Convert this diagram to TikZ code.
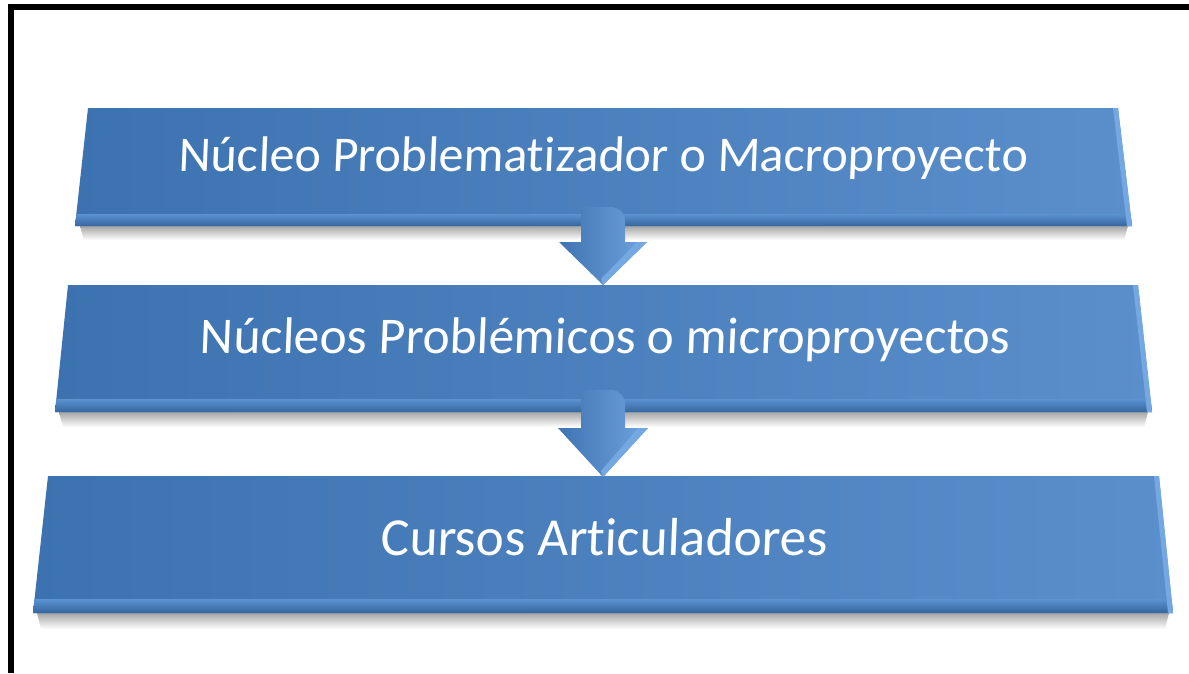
\documentclass[tikz,border=0pt]{standalone}
\usepackage{fontspec}
\setmainfont{Carlito}[Ligatures=NoCommon, FakeSlant=0.04]
\usetikzlibrary{calc}
\begin{document}
\definecolor{boxL}{HTML}{3D72B0}
\definecolor{boxR}{HTML}{5A8FCC}
\definecolor{bevD}{HTML}{35669F}
\definecolor{bevL}{HTML}{5B92D0}
\definecolor{edgeL}{HTML}{74A8E2}
\definecolor{arrL}{HTML}{3F74B2}
\definecolor{arrR}{HTML}{6FA3DD}
\tikzset{
  boxtext/.style={text=white, inner sep=0pt},
  shadowfill/.style={top color=black!35, bottom color=white},
  border/.style={line width=6pt, line join=miter, black}
}
\begin{tikzpicture}[x=1pt,y=-1pt]
\useasboundingbox (0,0) rectangle (1189,673);
\fill[white] (0,0) rectangle (1189,673);
% border (top and left only)
\draw[border] (11,673) -- (11,7) -- (1189,7);

% ---------- boxes ----------
% box 1
\shade[shadowfill] (80,226) -- (1128,226) -- (1124,240) -- (84,240) -- cycle;
\shade[left color=boxL, right color=boxR] (88,108) -- (1118,108) -- (1132,226) -- (75,226) -- cycle;
\shade[top color=bevL, bottom color=bevD] (76.5,214) -- (1130.6,214) -- (1132,226) -- (75,226) -- cycle;
\fill[edgeL] (1113,108) -- (1118,108) -- (1132,226) -- (1127,226) -- cycle;
\node[boxtext, font=\fontsize{50}{54}\selectfont] (b1) at (603,158) {Núcleo Problematizador o Macroproyecto};

% box 2
\shade[shadowfill] (59,412) -- (1148,412) -- (1144,427) -- (63,427) -- cycle;
\shade[left color=boxL, right color=boxR] (68,285) -- (1138,285) -- (1152,412) -- (55,412) -- cycle;
\shade[top color=bevL, bottom color=bevD] (56.4,399) -- (1150.6,399) -- (1152,412) -- (55,412) -- cycle;
\fill[edgeL] (1133,285) -- (1138,285) -- (1152,412) -- (1147,412) -- cycle;
\node[boxtext, font=\fontsize{51.5}{55}\selectfont] (b2) at (605,340) {Núcleos Problémicos o microproyectos};

% box 3
\shade[shadowfill] (37,613) -- (1169,613) -- (1165,629) -- (41,629) -- cycle;
\shade[left color=boxL, right color=boxR] (48,476) -- (1159,476) -- (1173,613) -- (33,613) -- cycle;
\shade[top color=bevL, bottom color=bevD] (34.4,599) -- (1171.6,599) -- (1173,613) -- (33,613) -- cycle;
\fill[edgeL] (1154,476) -- (1159,476) -- (1173,613) -- (1168,613) -- cycle;
\node[boxtext, font=\fontsize{53.5}{57}\selectfont] (b3) at (604,537) {Cursos Articuladores};

% ---------- arrows ----------
\coordinate (t1) at (603,285);
\coordinate (t2) at (603,477);
\shade[left color=arrL, right color=arrR, rounded corners=14pt]
  ($(t1)+(-22,-78)$) -- ($(t1)+(22,-78)$) [sharp corners] -- ($(t1)+(22,-43)$) -- ($(t1)+(44,-43)$) -- (t1) -- ($(t1)+(-44,-43)$) -- ($(t1)+(-22,-43)$) -- cycle;
\fill[edgeL] ($(t1)+(44,-43)$) -- (t1) -- ($(t1)+(-2,-6)$) -- ($(t1)+(34,-43)$) -- cycle;
\shade[left color=arrL, right color=arrR, rounded corners=14pt]
  ($(t2)+(-22,-87)$) -- ($(t2)+(22,-87)$) [sharp corners] -- ($(t2)+(22,-49)$) -- ($(t2)+(45,-49)$) -- (t2) -- ($(t2)+(-45,-49)$) -- ($(t2)+(-22,-49)$) -- cycle;
\fill[edgeL] ($(t2)+(45,-49)$) -- (t2) -- ($(t2)+(-2,-6)$) -- ($(t2)+(35,-49)$) -- cycle;
\end{tikzpicture}
\end{document}
